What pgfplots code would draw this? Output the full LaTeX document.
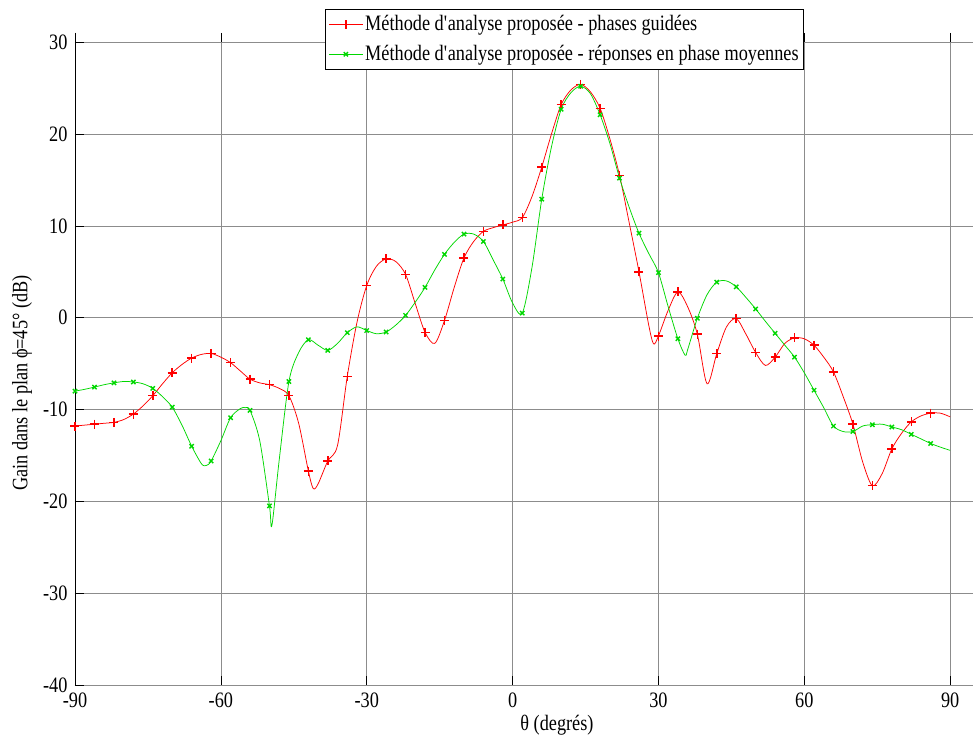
\documentclass[border=0pt]{standalone}
\usepackage{fontspec}
\setmainfont{Liberation Serif}[FakeStretch=0.83]
\usepackage{pgfplots}
\pgfplotsset{compat=1.18}
\usepackage{pgfplotstable}
\definecolor{mred}{RGB}{255,0,0}
\definecolor{mgreen}{RGB}{0,215,0}

\pgfplotstableread{
X Y
-90 -11.8
-88 -11.7
-86 -11.6
-84 -11.5
-82 -11.4
-80 -11.1
-78 -10.5
-76 -9.6
-74 -8.5
-72 -7.2
-70 -6.0
-68 -5.1
-66 -4.4
-64 -4.0
-62 -3.9
-60 -4.3
-58 -4.9
-56 -5.8
-54 -6.7
-52 -7.1
-50 -7.3
-48 -7.7
-46 -8.5
-44 -11.5
-42 -16.7
-41 -18.6
-40 -18.1
-38 -15.6
-36 -13.9
-34 -6.4
-32 -0.5
-30 3.5
-28 5.6
-26 6.4
-24 6.1
-22 4.7
-20 1.5
-18 -1.6
-16 -2.8
-14 -0.3
-12 3.3
-10 6.5
-8 8.3
-6 9.4
-4 9.8
-2 10.1
0 10.4
2 10.9
4 13.2
6 16.4
8 20.0
10 23.2
12 24.8
14 25.4
16 24.6
18 22.8
20 19.5
22 15.5
24 10.3
26 5.0
28 -0.8
29 -2.85
30 -2.0
32 0.8
34 2.8
36 1.2
38 -1.8
40 -7.2
42 -3.9
44 -1.0
46 -0.1
48 -1.8
50 -3.8
52 -5.2
54 -4.3
56 -2.8
58 -2.2
60 -2.3
62 -3.0
64 -4.3
66 -5.9
68 -8.6
70 -11.6
72 -15.7
74 -18.3
76 -17.0
78 -14.3
80 -12.6
82 -11.35
84 -10.7
86 -10.4
88 -10.4
90 -10.8
}\redline

\pgfplotstableread{
X Y
-90 -11.8
-86 -11.6
-82 -11.4
-78 -10.5
-74 -8.5
-70 -6.0
-66 -4.4
-62 -3.9
-58 -4.9
-54 -6.7
-50 -7.3
-46 -8.5
-42 -16.7
-38 -15.6
-34 -6.4
-30 3.5
-26 6.4
-22 4.7
-18 -1.6
-14 -0.3
-10 6.5
-6 9.4
-2 10.1
2 10.9
6 16.4
10 23.2
14 25.4
18 22.8
22 15.5
26 5.0
30 -2.0
34 2.8
38 -1.8
42 -3.9
46 -0.1
50 -3.8
54 -4.3
58 -2.2
62 -3.0
66 -5.9
70 -11.6
74 -18.3
78 -14.3
82 -11.35
86 -10.4
}\redmarks

\pgfplotstableread{
X Y
-90 -8.0
-88 -7.8
-86 -7.56
-84 -7.3
-82 -7.1
-80 -6.95
-78 -7.0
-76 -7.2
-74 -7.7
-72 -8.6
-70 -9.75
-68 -11.7
-66 -14.0
-64 -15.9
-63 -16.1
-62 -15.6
-60 -13.4
-58 -10.9
-56 -9.9
-55 -9.8
-54 -10.1
-52 -13.4
-50 -20.5
-49.5 -22.6
-48 -15.5
-46 -6.95
-44 -3.8
-42 -2.4
-40 -3.0
-38 -3.56
-36 -2.8
-34 -1.64
-32 -1.0
-30 -1.4
-28 -1.75
-26 -1.56
-24 -0.8
-22 0.25
-20 1.7
-18 3.3
-16 5.2
-14 6.9
-12 8.2
-10 9.1
-8 9.1
-6 8.3
-4 6.3
-2 4.2
0 1.6
2 0.5
4 5.5
6 12.9
8 18.6
10 22.7
12 24.5
14 25.2
16 24.4
18 22.1
20 19.0
22 15.2
24 12.0
26 9.2
28 7.0
30 4.9
32 1.2
34 -2.3
35.5 -4.1
36 -3.5
38 -0.07
40 2.5
42 3.87
44 4.0
46 3.36
48 2.2
50 0.95
52 -0.4
54 -1.7
56 -3.0
58 -4.3
60 -6.0
62 -7.9
64 -9.8
66 -11.8
68 -12.4
70 -12.4
72 -11.8
74 -11.65
76 -11.6
78 -11.9
80 -12.2
82 -12.7
84 -13.2
86 -13.7
88 -14.1
90 -14.45
}\greenline

\pgfplotstableread{
X Y
-90 -8.0
-86 -7.56
-82 -7.1
-78 -7.0
-74 -7.7
-70 -9.75
-66 -14.0
-62 -15.6
-58 -10.9
-54 -10.1
-50 -20.5
-46 -6.95
-42 -2.4
-38 -3.56
-34 -1.64
-30 -1.4
-26 -1.56
-22 0.25
-18 3.3
-14 6.9
-10 9.1
-6 8.3
-2 4.2
2 0.5
6 12.9
10 22.7
14 25.2
18 22.1
22 15.2
26 9.2
30 4.9
34 -2.3
38 -0.07
42 3.87
46 3.36
50 0.95
54 -1.7
58 -4.3
62 -7.9
66 -11.8
70 -12.4
74 -11.65
78 -11.9
82 -12.7
86 -13.7
}\greenmarks

\begin{document}
\fontsize{22}{26}\selectfont
\begin{tikzpicture}
\begin{axis}[
  scale only axis, width=898pt, height=652pt,
  xmin=-90, xmax=94.7, ymin=-40, ymax=31,
  xtick={-90,-60,-30,0,30,60,90},
  xticklabels={-90,-60,-30,0,30,60,90},
  ytick={-40,-30,-20,-10,0,10,20,30},
  yticklabels={-40,-30,-20,-10,0,10,20,30},
  tick align=inside, ytick pos=left,
  major tick length=9pt,
  tick style={black, line width=0.6pt},
  grid=major, major grid style={black!45, line width=0.6pt},
  axis line style={draw=none},
  tick label style={font=\fontsize{22}{26}\selectfont},
  label style={font=\fontsize{22}{26}\selectfont},
  xlabel={θ (degrés)},
  ylabel={Gain dans le plan ϕ=45° (dB)},
  xlabel style={at={(axis description cs:0.5367,-0.0613)}, anchor=center},
  ylabel style={at={(axis description cs:-0.059,0.463)}, anchor=center},
  legend style={at={(axis description cs:0.8118,1.0368)}, anchor=north east,
    draw=black, line width=0.6pt, fill=white, inner xsep=3pt, inner ysep=4pt, row sep=7pt,
    font=\fontsize{22}{26}\selectfont, cells={anchor=west}},
  legend image code/.code={\draw[mark repeat=2,mark phase=2] plot coordinates {(0pt,0pt)(17pt,0pt)(34pt,0pt)};},
]
\draw[black, line width=0.8pt] (rel axis cs:0,1) -- (rel axis cs:0,0) -- (rel axis cs:1,0);
\addplot[mred, line width=0.75pt, smooth, forget plot] table {\redline};
\addplot[mred, only marks, mark=+, mark size=4.5pt, mark options={line width=1.5pt}, forget plot] table {\redmarks};
\addplot[mgreen, line width=0.75pt, smooth, forget plot] table {\greenline};
\addplot[mgreen, only marks, mark=x, mark size=3pt, mark options={line width=1.4pt}, forget plot] table {\greenmarks};
\addlegendimage{mred, line width=0.75pt, mark=+, mark size=4.5pt, mark options={line width=1.5pt}}
\addlegendentry{Méthode d\textquotesingle analyse proposée - phases guidées}
\addlegendimage{mgreen, line width=0.75pt, mark=x, mark size=3pt, mark options={line width=1.4pt}}
\addlegendentry{Méthode d\textquotesingle analyse proposée - réponses en phase moyennes}
\end{axis}
\pgfresetboundingbox
\path ([xshift=-75pt,yshift=-55pt]current axis.south west) rectangle ([yshift=33pt]current axis.north east);
\end{tikzpicture}
\end{document}
